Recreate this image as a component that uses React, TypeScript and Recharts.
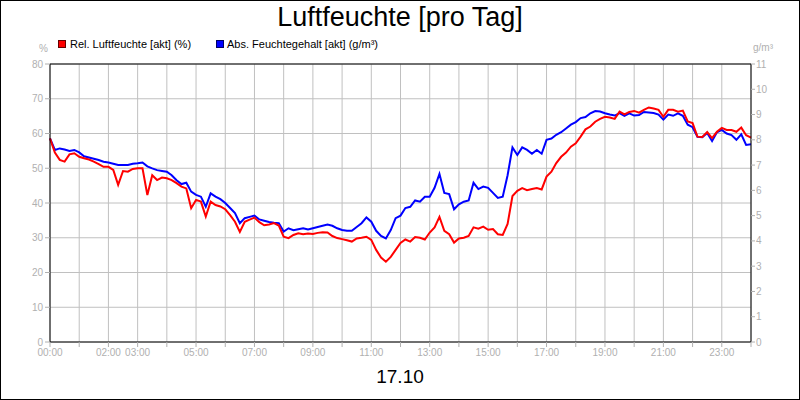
import React from "react";
import {
  LineChart,
  Line,
  XAxis,
  YAxis,
  CartesianGrid,
  ReferenceLine,
} from "recharts";

// 10-minute samples from 00:00 to 24:00
const relHumidity = [
  58.6, 54.5, 52.4, 51.9, 54.0, 54.3, 53.3, 52.9, 52.5, 51.9, 51.2, 50.4,
  50.4, 49.5, 45.2, 49.2, 49.0, 49.8, 50.0, 50.0, 42.3, 48.0, 46.6, 47.3,
  47.1, 46.6, 45.7, 44.7, 44.2, 38.5, 40.9, 40.4, 36.1, 40.4, 39.4, 39.0,
  38.2, 36.5, 34.6, 31.7, 34.6, 35.2, 35.8, 34.5, 33.6, 33.8, 34.2, 33.5,
  30.3, 29.9, 30.8, 31.3, 31.0, 31.2, 31.1, 31.4, 31.6, 31.5, 30.5, 29.9,
  29.6, 29.3, 28.9, 29.8, 30.0, 30.3, 29.4, 26.5, 24.3, 23.1, 24.5, 26.5,
  28.5, 29.5, 28.9, 30.2, 30.0, 29.5, 31.5, 33.0, 36.0, 32.0, 31.0, 28.6,
  29.8, 30.0, 30.5, 33.0, 32.6, 33.2, 32.3, 32.5, 31.0, 30.8, 34.0, 42.0,
  43.5, 44.3, 43.7, 44.0, 44.3, 43.9, 47.6, 49.0, 51.5, 53.3, 54.5, 56.2,
  57.2, 59.1, 61.2, 62.0, 63.4, 64.2, 64.8, 64.6, 64.2, 66.3, 65.5, 66.2,
  66.5, 66.0, 66.8, 67.5, 67.2, 66.8, 64.8, 66.8, 66.8, 66.3, 66.6, 63.5,
  63.0, 59.1, 59.0, 60.4, 58.7, 60.5, 61.6, 61.0, 61.0, 60.5, 61.7, 59.5,
  58.8,
];

const absHumidity = [
  8.06, 7.6, 7.66, 7.62, 7.56, 7.6, 7.5, 7.35, 7.3, 7.25, 7.2, 7.13,
  7.1, 7.05, 7.0, 7.0, 7.0, 7.05, 7.07, 7.1, 6.95, 6.87, 6.8, 6.77,
  6.74, 6.6, 6.4, 6.25, 6.3, 5.95, 5.82, 5.75, 5.35, 5.88, 5.75, 5.65,
  5.5, 5.3, 5.1, 4.7, 4.9, 4.95, 5.0, 4.85, 4.8, 4.75, 4.72, 4.7,
  4.37, 4.5, 4.42, 4.46, 4.5, 4.45, 4.5, 4.55, 4.6, 4.65, 4.6, 4.5,
  4.43, 4.4, 4.4, 4.55, 4.7, 4.93, 4.76, 4.4, 4.2, 4.1, 4.43, 4.9,
  5.0, 5.3, 5.35, 5.6, 5.55, 5.75, 5.75, 6.1, 6.65, 5.9, 5.85, 5.25,
  5.45, 5.55, 5.6, 6.3, 6.05, 6.15, 6.1, 5.9, 5.7, 5.75, 6.6, 7.7,
  7.4, 7.7, 7.6, 7.45, 7.6, 7.45, 8.0, 8.05, 8.2, 8.3, 8.45, 8.6,
  8.7, 8.86, 8.9, 9.05, 9.14, 9.12, 9.05, 9.0, 8.96, 9.06, 8.95, 9.05,
  8.96, 8.98, 9.1, 9.08, 9.06, 9.0, 8.8, 9.0, 8.95, 9.05, 8.95, 8.6,
  8.5, 8.12, 8.1, 8.27, 7.95, 8.3, 8.39, 8.25, 8.19, 8.0, 8.22, 7.8,
  7.82,
];

const hourTicks = [
  0, 1, 2, 3, 4, 5, 6, 7, 8, 9, 10, 11, 12, 13, 14, 15, 16, 17, 18, 19, 20,
  21, 22, 23, 24,
];
const labeledHours = [0, 2, 3, 5, 7, 9, 11, 13, 15, 17, 19, 21, 23];
const hourLabels = [
  "00:00", "02:00", "03:00", "05:00", "07:00", "09:00", "11:00", "13:00",
  "15:00", "17:00", "19:00", "21:00", "23:00",
];
const leftTicks = [0, 10, 20, 30, 40, 50, 60, 70, 80];
const rightTicks = [0, 1, 2, 3, 4, 5, 6, 7, 8, 9, 10, 11];

const chartData = relHumidity.map((rel, i) => ({
  t: i / 6,
  rel,
  abs: absHumidity[i],
}));

const FONT = '"Liberation Sans", Arial, sans-serif';
const TICK = { fontSize: 10, fill: "#b0b0b0", fontFamily: FONT };

function formatHour(h: number): string {
  const idx = labeledHours.indexOf(h);
  return idx >= 0 ? hourLabels[idx] : "";
}

export default function App() {
  return (
    <div
      style={{
        position: "absolute",
        left: 0,
        top: 0,
        width: 800,
        height: 400,
        background: "#fff",
        fontFamily: FONT,
      }}
    >
      <LineChart
        width={800}
        height={400}
        data={chartData}
        margin={{ top: 64, right: 9, left: 10, bottom: 28 }}
      >
        <CartesianGrid
          yAxisId="left"
          stroke="#c0c0c0"
          strokeWidth={1}
          vertical
          horizontal
        />
        <XAxis
          dataKey="t"
          type="number"
          domain={[0, 24]}
          ticks={hourTicks}
          interval={0}
          tickFormatter={formatHour}
          height={30}
          tick={TICK}
          tickSize={5}
          tickMargin={2}
          tickLine={{ stroke: "#b0b0b0" }}
          axisLine={{ stroke: "#000" }}
        />
        <YAxis
          yAxisId="left"
          orientation="left"
          domain={[0, 80]}
          ticks={leftTicks}
          interval={0}
          width={40}
          tick={TICK}
          tickSize={5}
          tickMargin={2}
          tickLine={{ stroke: "#b0b0b0" }}
          axisLine={{ stroke: "#000" }}
        />
        <YAxis
          yAxisId="right"
          orientation="right"
          domain={[0, 11]}
          ticks={rightTicks}
          interval={0}
          width={40}
          tick={TICK}
          tickSize={4}
          tickMargin={1}
          tickLine={{ stroke: "#b0b0b0" }}
          axisLine={{ stroke: "#000" }}
        />
        <ReferenceLine yAxisId="left" y={80} stroke="#000" strokeWidth={1} />
        <Line
          yAxisId="right"
          type="linear"
          dataKey="abs"
          stroke="#0000ff"
          strokeWidth={2}
          dot={false}
          isAnimationActive={false}
        />
        <Line
          yAxisId="left"
          type="linear"
          dataKey="rel"
          stroke="#ff0000"
          strokeWidth={2}
          dot={false}
          isAnimationActive={false}
        />
      </LineChart>

      <div
        style={{
          position: "absolute",
          left: 0,
          top: 1,
          width: 800,
          textAlign: "center",
          fontSize: 27,
          lineHeight: "32px",
          color: "#000",
        }}
      >
        Luftfeuchte [pro Tag]
      </div>

      <div style={{ position: "absolute", left: 58, top: 40, width: 8, height: 8, background: "#ff0000", border: "1px solid #600" , boxSizing: "border-box" }} />
      <div style={{ position: "absolute", left: 70, top: 37, fontSize: 11, lineHeight: "14px", color: "#000" }}>
        Rel. Luftfeuchte [akt] (%)
      </div>
      <div style={{ position: "absolute", left: 216, top: 40, width: 8, height: 8, background: "#0000ff", border: "1px solid #006", boxSizing: "border-box" }} />
      <div style={{ position: "absolute", left: 227, top: 37, fontSize: 11, lineHeight: "14px", color: "#000" }}>
        Abs. Feuchtegehalt [akt] (g/m³)
      </div>

      <div style={{ position: "absolute", left: 39, top: 43, fontSize: 10, lineHeight: "12px", color: "#b0b0b0" }}>
        %
      </div>
      <div style={{ position: "absolute", left: 753, top: 42, fontSize: 10, lineHeight: "12px", color: "#b0b0b0" }}>
        g/m³
      </div>

      <div
        style={{
          position: "absolute",
          left: 0,
          top: 366,
          width: 800,
          textAlign: "center",
          fontSize: 19,
          lineHeight: "22px",
          color: "#000",
        }}
      >
        17.10
      </div>

      <div
        style={{
          position: "absolute",
          left: 0,
          top: 0,
          width: 800,
          height: 400,
          border: "1px solid #000",
          boxSizing: "border-box",
          pointerEvents: "none",
        }}
      />
    </div>
  );
}
